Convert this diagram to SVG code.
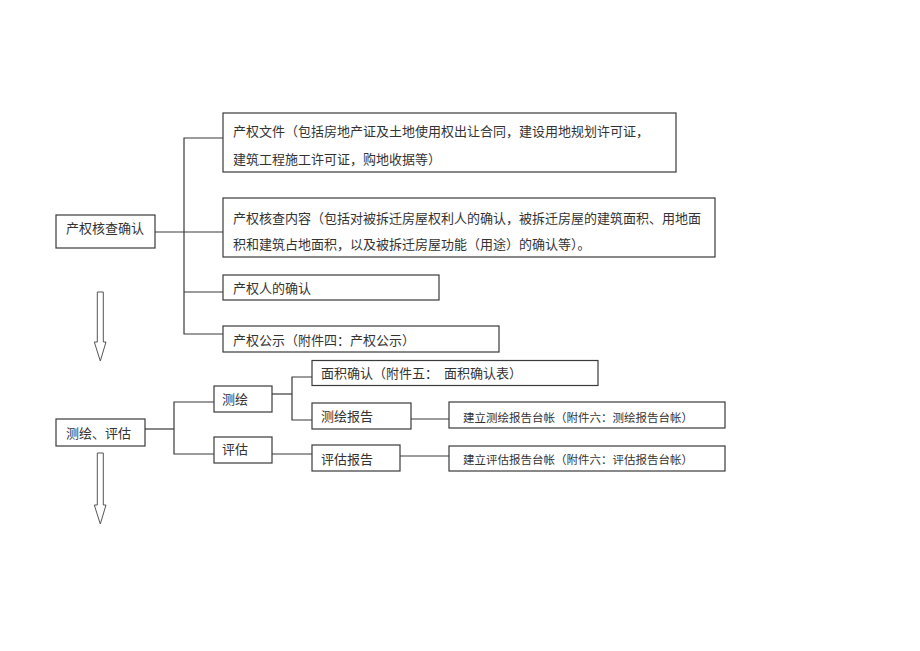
<svg xmlns="http://www.w3.org/2000/svg" width="920" height="651" viewBox="0 0 920 651">
<style>
.box{fill:#fff;stroke:#3a3a3a;stroke-width:1.2}
.t{font-family:"Noto Sans CJK SC","Noto Sans",sans-serif;font-size:13px;fill:#333}
.s{font-family:"Noto Sans CJK SC","Noto Sans",sans-serif;font-size:11.5px;fill:#333}
.c{fill:none;stroke:#3a3a3a;stroke-width:1.2}
.arr{fill:#fff;stroke:#555;stroke-width:1}
</style>
<rect width="920" height="651" fill="#fff"/>
<g id="connectors">
<polyline class="c" points="223,138 184,138 184,334 223,334"/>
<line class="c" x1="155" y1="232" x2="223" y2="232"/>
<line class="c" x1="184" y1="292" x2="223" y2="292"/>
<line class="c" x1="145" y1="429" x2="174" y2="429"/>
<polyline class="c" points="214,402 174,402 174,454 214,454"/>
<line class="c" x1="272" y1="394" x2="292" y2="394"/>
<polyline class="c" points="312,377 292,377 292,420 312,420"/>
<line class="c" x1="272" y1="454" x2="312" y2="454"/>
<line class="c" x1="411" y1="419" x2="449" y2="419"/>
<line class="c" x1="400" y1="456" x2="449" y2="456"/>
</g>
<g id="arrow1"><polygon class="arr" points="97.3,292 103.3,292 103.3,342 106,342 100.3,361 94.3,342 97.3,342"/></g>
<g id="arrow2"><polygon class="arr" points="97.3,453 103.3,453 103.3,505 106,505 100.3,524 94.3,505 97.3,505"/></g>
<g id="n-chanquan">
<rect class="box" x="56" y="215" width="99" height="33"/>
<text class="t" x="66" y="233">产权核查确认</text>
</g>
<g id="n-wenjian">
<rect class="box" x="223" y="113" width="453" height="59"/>
<text class="t" x="233" y="136">产权文件（包括房地产证及土地使用权出让合同，建设用地规划许可证，</text>
<text class="t" x="233" y="164">建筑工程施工许可证，购地收据等）</text>
</g>
<g id="n-neirong">
<rect class="box" x="223" y="198" width="492" height="59"/>
<text class="t" x="233" y="223">产权核查内容（包括对被拆迁房屋权利人的确认，被拆迁房屋的建筑面积、用地面</text>
<text class="t" x="233" y="249">积和建筑占地面积，以及被拆迁房屋功能（用途）的确认等）。</text>
</g>
<g id="n-renqueren">
<rect class="box" x="223" y="275" width="216" height="25"/>
<text class="t" x="233" y="292.5">产权人的确认</text>
</g>
<g id="n-gongshi">
<rect class="box" x="223" y="326" width="276" height="26"/>
<text class="t" x="233" y="344.5">产权公示（附件四：产权公示）</text>
</g>
<g id="n-chehui-pinggu">
<rect class="box" x="56" y="419" width="89" height="27"/>
<text class="t" x="66" y="438">测绘、评估</text>
</g>
<g id="n-cehui">
<rect class="box" x="214" y="386" width="58" height="26"/>
<text class="t" x="222" y="404">测绘</text>
</g>
<g id="n-pinggu">
<rect class="box" x="214" y="437" width="58" height="26"/>
<text class="t" x="222" y="453.5">评估</text>
</g>
<g id="n-mianji">
<rect class="box" x="312" y="360.5" width="286" height="25"/>
<text class="t" x="321" y="378">面积确认（附件五：<tspan x="444">面积确认表）</tspan></text>
</g>
<g id="n-cehuibaogao">
<rect class="box" x="312" y="403" width="99" height="26"/>
<text class="t" x="321" y="421">测绘报告</text>
</g>
<g id="n-pinggubaogao">
<rect class="box" x="312" y="445" width="88" height="26"/>
<text class="t" x="321" y="464">评估报告</text>
</g>
<g id="n-cehuitaizhang">
<rect class="box" x="449" y="402" width="276" height="26"/>
<text class="s" x="463" y="421.5">建立测绘报告台帐（附件六：测绘报告台帐）</text>
</g>
<g id="n-penggutaizhang">
<rect class="box" x="449" y="446" width="276" height="25"/>
<text class="s" x="463" y="464">建立评估报告台帐（附件六：评估报告台帐）</text>
</g>
</svg>
